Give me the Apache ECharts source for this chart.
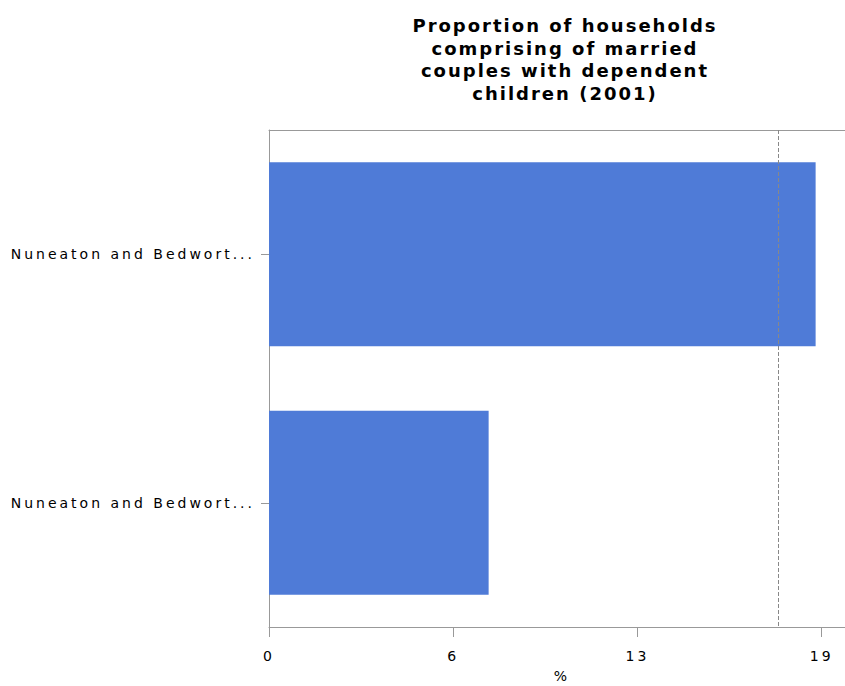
<!DOCTYPE html>
<html>
<head>
<meta charset="utf-8">
<script src="https://cdn.jsdelivr.net/npm/echarts@6/dist/echarts.min.js"></script>
<style>
html,body{margin:0;padding:0;background:#fff;}
#chart{width:845px;height:686px;}
</style>
</head>
<body>
<div id="chart"></div>
<script>
var categories = ['Nuneaton and Bedwort...', 'Nuneaton and Bedwort...'];
var values = [18.79, 7.55];
var referenceValue = 17.51;
var titleText = 'Proportion of households\ncomprising of married\ncouples with dependent\nchildren (2001)';
var axisName = '%';
var tickStep = 19 / 3;
var axisMax = 19.8;

var chart = echarts.init(document.getElementById('chart'), null, {renderer: 'svg'});
chart.setOption({
  animation: false,
  backgroundColor: '#ffffff',
  title: {
    text: titleText,
    left: 560,
    textAlign: 'center',
    top: 9,
    textStyle: {
      fontFamily: 'DejaVu Sans',
      fontWeight: 'bold',
      fontSize: 18,
      lineHeight: 22.7,
      color: '#000'
    }
  },
  grid: {
    left: 269,
    right: 0,
    top: 130,
    bottom: 59,
    show: false,
    containLabel: false,
    outerBoundsMode: 'none'
  },
  xAxis: [{
    type: 'value',
    min: 0,
    max: axisMax,
    interval: tickStep,
    name: axisName,
    nameLocation: 'middle',
    nameGap: 42,
    nameTextStyle: {fontFamily: 'DejaVu Sans', fontSize: 14, color: '#000', padding: [0, 0, 0, 10]},
    splitLine: {show: false},
    axisLine: {show: true, lineStyle: {color: '#999', width: 1}},
    axisTick: {show: true, length: 10, lineStyle: {color: '#999'}},
    axisLabel: {
      showMaxLabel: false,
      margin: 22,
      fontFamily: 'DejaVu Sans',
      fontSize: 14,
      color: '#000',
      formatter: function (v) { return String(Math.round(v)); }
    }
  }, {
    type: 'value',
    position: 'top',
    min: 0,
    max: axisMax,
    interval: tickStep,
    splitLine: {show: false},
    axisLine: {show: true, lineStyle: {color: '#999', width: 1}},
    axisTick: {show: false},
    axisLabel: {show: false}
  }],
  yAxis: {
    type: 'category',
    inverse: true,
    data: categories,
    axisLine: {show: true, lineStyle: {color: '#999', width: 1}},
    axisTick: {show: true, alignWithLabel: true, length: 8, lineStyle: {color: '#999'}},
    axisLabel: {
      margin: 14,
      padding: [11, 0, 0, 0],
      fontFamily: 'DejaVu Sans',
      fontSize: 14,
      color: '#000'
    },
    splitLine: {show: false}
  },
  series: [{
    type: 'bar',
    xAxisIndex: 0,
    data: values,
    barCategoryGap: '26%',
    itemStyle: {color: '#4f7bd7'},
    markLine: {
      silent: true,
      symbol: 'none',
      label: {show: false},
      lineStyle: {type: 'dashed', color: '#888', width: 1},
      data: [{xAxis: referenceValue}]
    }
  }]
});

// Bitmap-font look of the reference: widen letter spacing of the rendered texts
var texts = document.querySelectorAll('#chart text');
for (var i = 0; i < texts.length; i++) {
  var cs = window.getComputedStyle(texts[i]);
  var bold = parseInt(cs.fontWeight, 10) >= 700 || cs.fontWeight === 'bold';
  texts[i].style.letterSpacing = bold ? '2px' : '3px';
}
</script>
</body>
</html>
